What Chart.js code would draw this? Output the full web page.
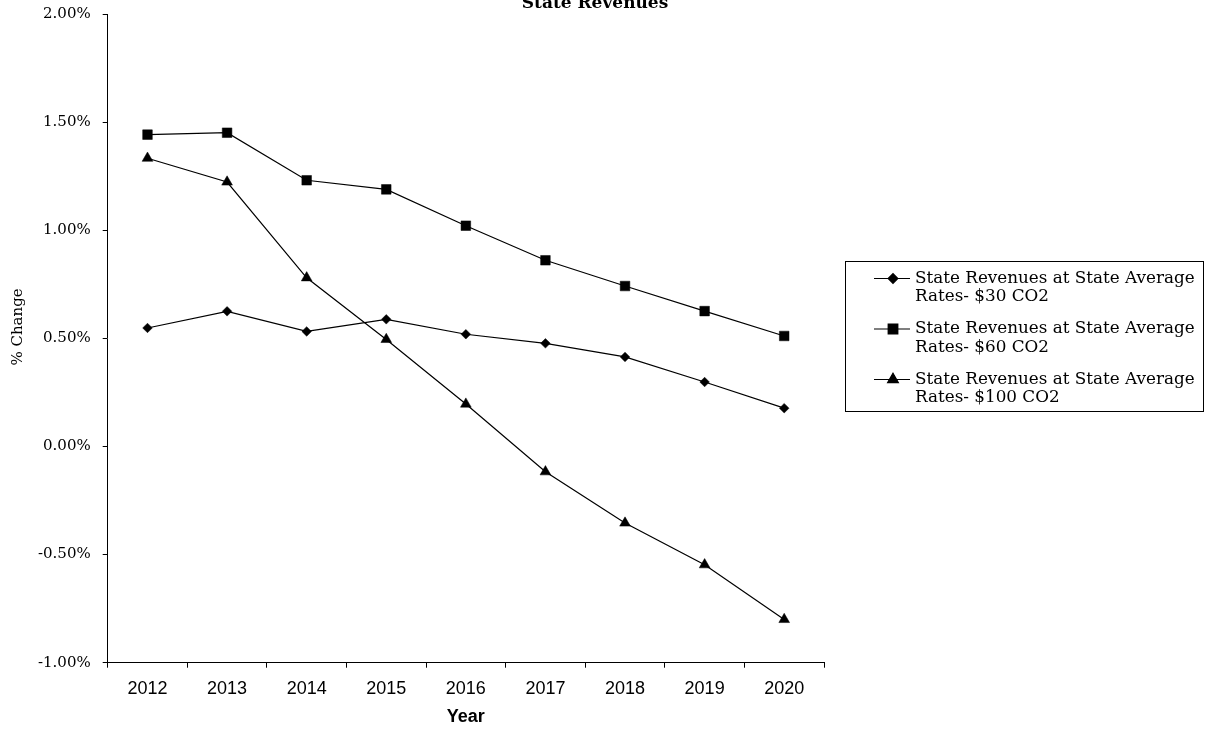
<!DOCTYPE html>
<html>
<head>
<meta charset="utf-8">
<script src="https://cdn.jsdelivr.net/npm/chart.js@4"></script>
<style>
  html, body { margin: 0; padding: 0; background: #fff; }
  #wrap { width: 1206px; height: 730px; position: relative; }
</style>
</head>
<body>
<div id="wrap"><canvas id="c" width="1206" height="730"></canvas></div>
<script>
// Years on the category axis
const years = ['2012', '2013', '2014', '2015', '2016', '2017', '2018', '2019', '2020'];

// % change in state revenues for each carbon price
const rev30 = [0.548, 0.625, 0.532, 0.588, 0.519, 0.477, 0.414, 0.298, 0.177];
const rev60 = [1.442, 1.451, 1.231, 1.189, 1.021, 0.861, 0.742, 0.626, 0.511];
const rev100 = [1.333, 1.223, 0.780, 0.495, 0.196, -0.117, -0.354, -0.547, -0.800];

const seriesLabels = [
  'State Revenues at State Average Rates- $30 CO2',
  'State Revenues at State Average Rates- $60 CO2',
  'State Revenues at State Average Rates- $100 CO2'
];

const titleText = 'State Revenues';
const xTitle = 'Year';
const yTitle = '% Change';

const SERIF = '"DejaVu Serif", "Liberation Serif", serif';
const SANS = '"Liberation Sans", Arial, sans-serif';

function lineSet(label, data, style, radius) {
  return {
    label, data,
    borderColor: '#000', backgroundColor: '#000',
    borderWidth: 1.2,
    pointStyle: style, pointRadius: radius, pointHoverRadius: radius,
    pointBackgroundColor: '#000', pointBorderColor: '#000', pointBorderWidth: 0.5,
    tension: 0, fill: false
  };
}

// Title, boxed legend and rotated y title drawn onto the canvas
const decorations = {
  id: 'decorations',
  afterDraw(chart) {
    const ctx = chart.ctx;
    ctx.save();
    // chart title
    ctx.fillStyle = '#000';
    ctx.font = 'bold 17px ' + SERIF;
    ctx.textAlign = 'center';
    ctx.textBaseline = 'alphabetic';
    ctx.fillText(titleText, 595, 8);

    // y axis title
    ctx.save();
    ctx.translate(18, 327);
    ctx.rotate(-Math.PI / 2);
    ctx.font = '15px ' + SERIF;
    ctx.textAlign = 'center';
    ctx.textBaseline = 'middle';
    ctx.fillText(yTitle, 0, 0);
    ctx.restore();

    // legend box
    const box = { x: 845.5, y: 261.5, w: 358, h: 150 };
    ctx.strokeStyle = '#000';
    ctx.lineWidth = 1;
    ctx.strokeRect(box.x, box.y, box.w, box.h);
    ctx.font = '16.8px ' + SERIF;
    ctx.textAlign = 'left';
    ctx.textBaseline = 'middle';
    chart.data.datasets.forEach((ds, i) => {
      const y0 = 278.5 + i * 50.5;
      ctx.beginPath();
      ctx.moveTo(874, y0);
      ctx.lineTo(910, y0);
      ctx.lineWidth = 1.2;
      ctx.stroke();
      Chart.helpers.drawPoint(ctx, {
        pointStyle: ds.pointStyle, radius: ds.pointRadius, borderWidth: 0.5
      }, 893, y0);
      ctx.fill();
      const parts = ds.label.split(' Rates-');
      ctx.fillText(parts[0], 915, y0);
      ctx.fillText('Rates-' + parts[1], 915, y0 + 18.5);
    });
    ctx.restore();
  }
};

new Chart(document.getElementById('c'), {
  type: 'line',
  data: {
    labels: years,
    datasets: [
      lineSet(seriesLabels[0], rev30, 'rectRot', 4.8),
      lineSet(seriesLabels[1], rev60, 'rect', 6.8),
      lineSet(seriesLabels[2], rev100, 'triangle', 6.2)
    ]
  },
  options: {
    responsive: false,
    animation: false,
    layout: { padding: { left: 0, right: 382, top: 14, bottom: 0 } },
    plugins: {
      legend: { display: false },
      title: { display: false },
      tooltip: { enabled: false }
    },
    scales: {
      x: {
        type: 'category',
        offset: true,
        grid: {
          offset: true, drawOnChartArea: false, drawTicks: true,
          tickLength: 5, color: '#000', lineWidth: 1
        },
        border: { display: true, color: '#000', width: 1 },
        ticks: {
          color: '#000', padding: 11,
          font: { family: SANS, size: 18 }
        },
        title: {
          display: true, text: xTitle, color: '#000',
          font: { family: SANS, size: 18, weight: 'bold' },
          padding: { top: 4, bottom: 2.5 }
        },
        afterFit(scale) { scale.height = 67.3; }
      },
      y: {
        min: -1, max: 2,
        ticks: {
          stepSize: 0.5, color: '#000', padding: 12,
          font: { family: SERIF, size: 15 },
          callback: v => v.toFixed(2) + '%'
        },
        grid: {
          drawOnChartArea: false, drawTicks: true,
          tickLength: 5, color: '#000', lineWidth: 1
        },
        border: { display: true, color: '#000', width: 1 },
        afterFit(scale) {
          scale.width = 107.7;
          scale.paddingTop = 0;
          scale.paddingBottom = 0;
        }
      }
    }
  },
  plugins: [decorations]
});
</script>
</body>
</html>
